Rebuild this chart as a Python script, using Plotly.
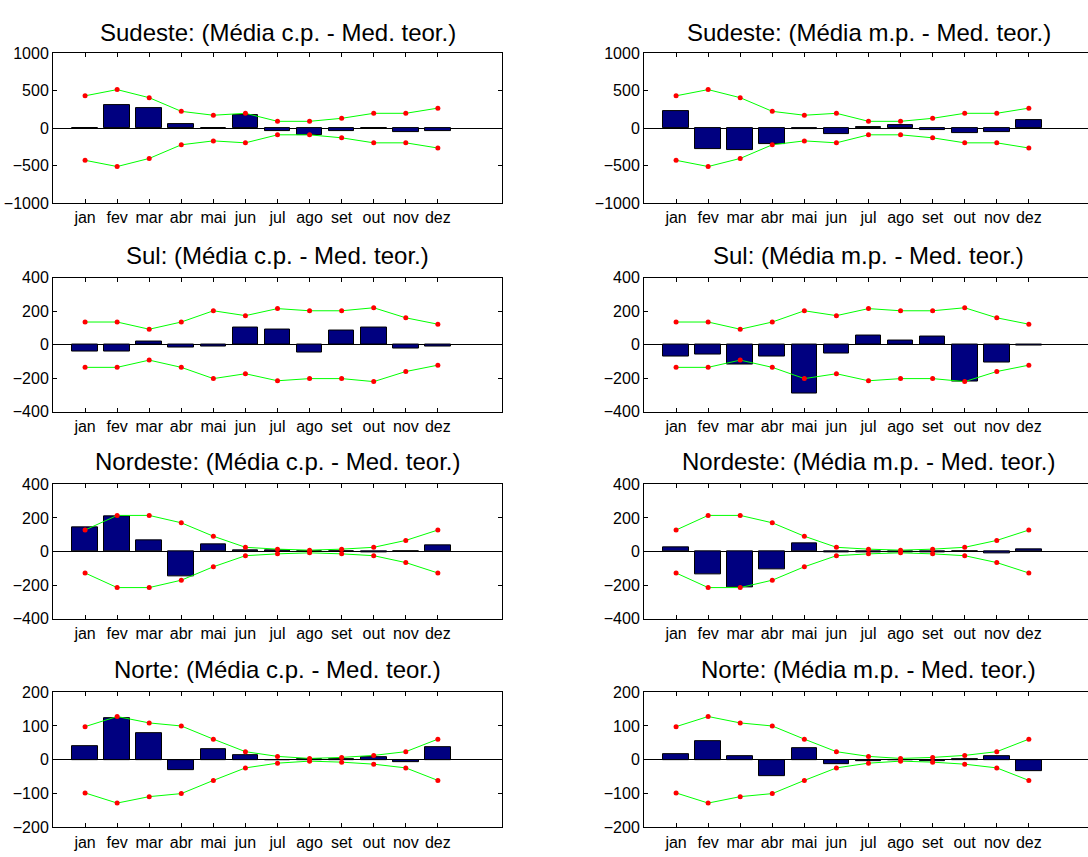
import plotly.graph_objects as go
from plotly.subplots import make_subplots

meses = ["jan", "fev", "mar", "abr", "mai", "jun", "jul", "ago", "set", "out", "nov", "dez"]
pos = list(range(1, 13))

# Limites (faixa de tolerância) por região
sudeste_sup = [430, 513, 405, 223, 171, 197, 90, 90, 130, 197, 197, 266]
sudeste_inf = [-430, -513, -405, -223, -171, -197, -90, -90, -130, -197, -197, -266]
sul_sup = [135, 135, 92, 135, 202, 173, 215, 202, 202, 220, 160, 122]
sul_inf = [-135, -135, -92, -135, -202, -173, -215, -202, -202, -220, -160, -122]
nordeste_sup = [128, 215, 215, 171, 91, 25, 14, 8, 14, 25, 66, 128]
nordeste_inf = [-128, -215, -215, -171, -91, -25, -14, -8, -14, -25, -66, -128]
norte_sup = [98, 128, 109, 100, 61, 24, 10, 4, 7, 13, 24, 61]
norte_inf = [-98, -128, -109, -100, -61, -24, -10, -4, -7, -13, -24, -61]

# Diferenças: média c.p. e média m.p. menos a mediana teórica
sudeste_cp = [-5, 310, 262, 50, -3, 168, -40, -100, -40, -5, -55, -40]
sudeste_mp = [220, -275, -295, -220, -15, -82, 15, 35, -28, -70, -55, 100]
sul_cp = [-43, -43, 20, -18, -12, 100, 92, -49, 86, 100, -25, -12]
sul_mp = [-72, -60, -117, -72, -293, -53, 57, 23, 51, -219, -105, -6]
nordeste_cp = [142, 210, 68, -148, 45, 8, 8, 2, 2, -8, 2, 37]
nordeste_mp = [27, -134, -216, -105, 50, -8, -8, -4, -8, -2, -12, 14]
norte_cp = [41, 122, 78, -32, 32, 13, -2, 1, 1, 7, -6, 38]
norte_mp = [17, 55, 10, -48, 34, -12, -4, -2, -4, 3, 10, -34]

regioes = [
    ("Sudeste", sudeste_cp, sudeste_mp, sudeste_sup, sudeste_inf, [-1000, -500, 0, 500, 1000]),
    ("Sul", sul_cp, sul_mp, sul_sup, sul_inf, [-400, -200, 0, 200, 400]),
    ("Nordeste", nordeste_cp, nordeste_mp, nordeste_sup, nordeste_inf, [-400, -200, 0, 200, 400]),
    ("Norte", norte_cp, norte_mp, norte_sup, norte_inf, [-200, -100, 0, 100, 200]),
]

W, H = 1088, 857
FONT = "Liberation Sans, Arial, Helvetica, sans-serif"

# Posições dos painéis em pixels (topo, base) por linha
linhas_px = [(46, 199), (275, 412), (486, 623), (698, 836)]
col_px = [(53, 502), (644, W)]
col_range = [[0, 14], [0, (W - 644) / 32.07]]
col_title_x = [277.5, 868.5]
title_y_px = [25, 252, 463, 675]

fig = make_subplots(rows=4, cols=2)
annotations = []

for r, (nome, cp, mp, sup, inf, yt) in enumerate(regioes):
    for c, (serie, rotulo) in enumerate([(cp, "c.p."), (mp, "m.p.")]):
        row, col = r + 1, c + 1
        fig.add_trace(go.Bar(
            x=pos, y=serie, width=0.8,
            marker=dict(color="#000080", line=dict(color="black", width=1)),
            showlegend=False,
        ), row=row, col=col)
        for lim in (sup, inf):
            fig.add_trace(go.Scatter(
                x=pos, y=lim, mode="lines+markers",
                line=dict(color="#00ff00", width=1),
                marker=dict(color="#ff0000", size=5),
                showlegend=False,
            ), row=row, col=col)

        idx = r * 2 + c + 1
        xa = "xaxis" if idx == 1 else f"xaxis{idx}"
        ya = "yaxis" if idx == 1 else f"yaxis{idx}"
        top, bot = linhas_px[r]
        x0, x1 = col_px[c]
        fig.layout[xa].update(
            domain=[x0 / W, x1 / W], range=col_range[c],
            tickvals=pos, ticktext=meses, ticks="inside", ticklen=4,
            tickcolor="black", showline=True, linecolor="black", linewidth=1,
            mirror="ticks", showgrid=False, zeroline=False,
            tickfont=dict(family=FONT, size=16, color="black"),
        )
        fig.layout[ya].update(
            domain=[1 - bot / H, 1 - top / H], range=[yt[0], yt[-1]],
            tickvals=yt, ticks="inside", ticklen=4, tickcolor="black",
            showline=True, linecolor="black", linewidth=1,
            mirror="ticks" if c == 0 else False, showgrid=False,
            zeroline=True, zerolinecolor="black", zerolinewidth=1,
            tickfont=dict(family=FONT, size=16, color="black"),
        )
        annotations.append(dict(
            text=f"{nome}: (Média {rotulo} - Med. teor.)",
            x=col_title_x[c] / W, y=1 - title_y_px[r] / H,
            xref="paper", yref="paper", xanchor="center", yanchor="middle",
            showarrow=False, font=dict(family=FONT, size=24, color="black"),
        ))

fig.update_layout(
    width=W, height=H, margin=dict(l=0, r=0, t=0, b=0),
    paper_bgcolor="white", plot_bgcolor="white",
    annotations=annotations, bargap=0, showlegend=False,
)

fig.write_html("out.html")
